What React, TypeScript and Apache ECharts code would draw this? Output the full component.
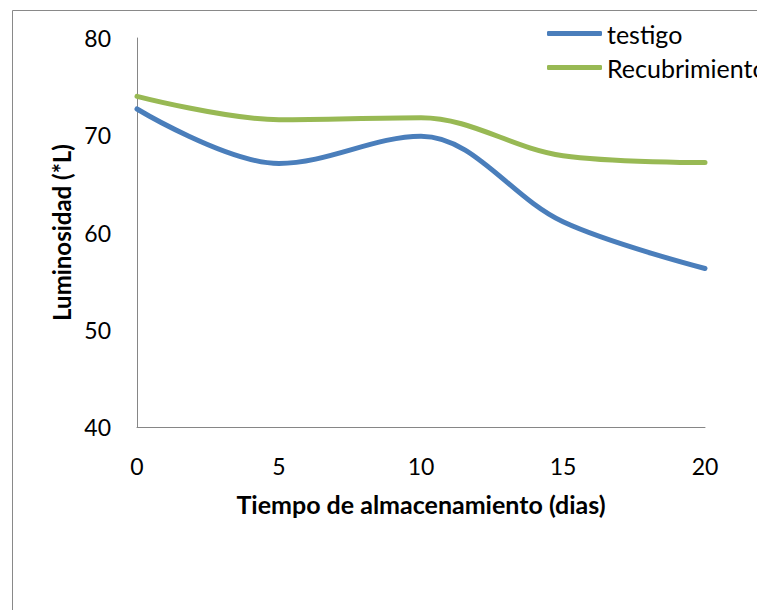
import React, { useEffect, useRef } from "react";
import * as echarts from "echarts";

const days = [0, 5, 10, 15, 20];
const testigo = [72.7, 67.1, 69.9, 61.1, 56.3];
const recubrimiento = [74.0, 71.6, 71.8, 67.9, 67.2];
const seriesNames = ["testigo", "Recubrimiento"];
const xTitle = "Tiempo de almacenamiento (dias)";
const yTitle = "Luminosidad (*L)";

const FONT = "Lato";

export default function App() {
  const ref = useRef<HTMLDivElement>(null);
  useEffect(() => {
    if (!ref.current) return;
    const chart = echarts.init(ref.current, null, { renderer: "svg" });
    const pair = (ys: number[]) => days.map((d, i) => [d, ys[i]]);
    chart.setOption({
      animation: false,
      backgroundColor: "#ffffff",
      graphic: [
        {
          type: "rect",
          shape: { x: 12.5, y: 10.5, width: 800, height: 700 },
          style: { fill: "none", stroke: "#898989", lineWidth: 1 },
          silent: true,
        },
      ],
      legend: {
        orient: "vertical",
        left: 542,
        top: 16,
        itemWidth: 55,
        itemHeight: 5,
        itemGap: 9,
        icon: "roundRect",
        textStyle: { fontFamily: FONT, fontSize: 25, color: "#000" },
        data: seriesNames,
      },
      grid: { left: 137, top: 38, right: 52, bottom: 183, containLabel: false },
      xAxis: {
        type: "value",
        min: 0,
        max: 20,
        interval: 5,
        name: xTitle,
        nameLocation: "middle",
        nameGap: 64,
        nameTextStyle: { fontFamily: FONT, fontSize: 25, fontWeight: "bold", color: "#000" },
        axisLine: { show: true, onZero: false, lineStyle: { color: "#868686", width: 1 } },
        axisTick: { show: false },
        splitLine: { show: false },
        axisLabel: { margin: 27, fontFamily: FONT, fontSize: 23, color: "#000" },
      },
      yAxis: {
        type: "value",
        min: 40,
        max: 80,
        interval: 10,
        name: yTitle,
        nameLocation: "middle",
        nameGap: 62,
        nameTextStyle: { fontFamily: FONT, fontSize: 24, fontWeight: "bold", color: "#000" },
        axisLine: { show: true, lineStyle: { color: "#868686", width: 1 } },
        axisTick: { show: false },
        splitLine: { show: false },
        axisLabel: { margin: 26, fontFamily: FONT, fontSize: 23, color: "#000" },
      },
      series: [
        {
          name: seriesNames[0],
          type: "line",
          data: pair(testigo),
          smooth: 0.35,
          showSymbol: false,
          symbol: "none",
          color: "#4A7EBB",
          lineStyle: { width: 5, color: "#4A7EBB", cap: "round", join: "round" },
        },
        {
          name: seriesNames[1],
          type: "line",
          data: pair(recubrimiento),
          smooth: 0.35,
          showSymbol: false,
          symbol: "none",
          color: "#98B954",
          lineStyle: { width: 5, color: "#98B954", cap: "round", join: "round" },
        },
      ],
    });
    return () => chart.dispose();
  }, []);
  return (
    <div
      ref={ref}
      style={{ position: "fixed", left: 0, top: 0, width: 757, height: 610 }}
    />
  );
}
